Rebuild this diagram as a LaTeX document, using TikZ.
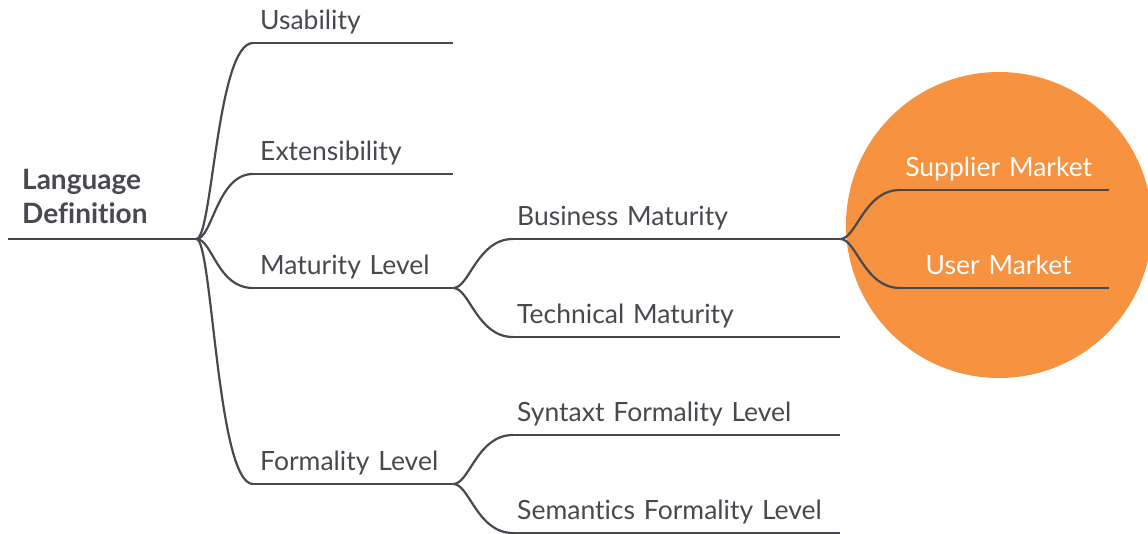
\documentclass[tikz,border=0pt]{standalone}
\usepackage{fontspec}
\setmainfont{Lato}[Ligatures=NoCommon]
\usepackage{tikz}
\definecolor{ink}{RGB}{72,72,78}
\definecolor{focus}{RGB}{246,146,64}
\tikzset{
  wire/.style={draw=ink, line width=2.2pt},
  twig/.style={to path={.. controls +(16,0) and +(-36,0) .. (\tikztotarget)}},
  topic/.style={anchor=south west, inner ysep=7pt, text height=18pt, text depth=6pt,
    align=left, text=ink, font=\fontsize{26.5}{30}\selectfont},
  root/.style={anchor=south west, inner xsep=14pt, inner ysep=15pt, text width=160pt,
    align=left, text=ink, font=\fontsize{28}{34}\selectfont\bfseries},
  lvlone/.style={topic, inner xsep=7pt, text width=186pt},
  lvltwo/.style={topic, inner xsep=4pt, text width=319pt},
  lvlthree/.style={topic, inner xsep=1pt, text width=207pt, align=center, text=white}
}
\begin{document}
\begin{tikzpicture}[x=1pt, y=-1pt]
\useasboundingbox (0,0) rectangle (1148,534);
\node[circle, fill=focus, minimum size=306pt, inner sep=0pt] (halo) at (999,225) {};
\node[root] (lang) at (8,239) {Language\\Definition};
\node[lvlone] (usab) at (253,43) {Usability};
\node[lvlone] (ext) at (253,174) {Extensibility};
\node[lvlone] (mat) at (253,288) {Maturity Level};
\node[lvlone] (form) at (253,484) {Formality Level};
\node[lvltwo] (bus) at (513,239) {Business Maturity};
\node[lvltwo] (tech) at (513,337) {Technical Maturity};
\node[lvltwo] (syn) at (513,435) {Syntaxt Formality Level};
\node[lvltwo] (sem) at (513,533) {Semantics Formality Level};
\node[lvlthree] (supp) at (900,190) {Supplier Market\hspace*{12pt}};
\node[lvlthree] (user) at (900,288) {User Market\hspace*{12pt}};
\foreach \n in {lang,usab,ext,mat,form,bus,tech,syn,sem,supp,user}
  \draw[wire] (\n.south west) -- (\n.south east);
\foreach \a/\b in {lang/usab,lang/ext,lang/mat,lang/form,mat/bus,mat/tech,form/syn,form/sem,bus/supp,bus/user}
  \draw[wire] (\a.south east) to[twig] (\b.south west);
\end{tikzpicture}
\end{document}
